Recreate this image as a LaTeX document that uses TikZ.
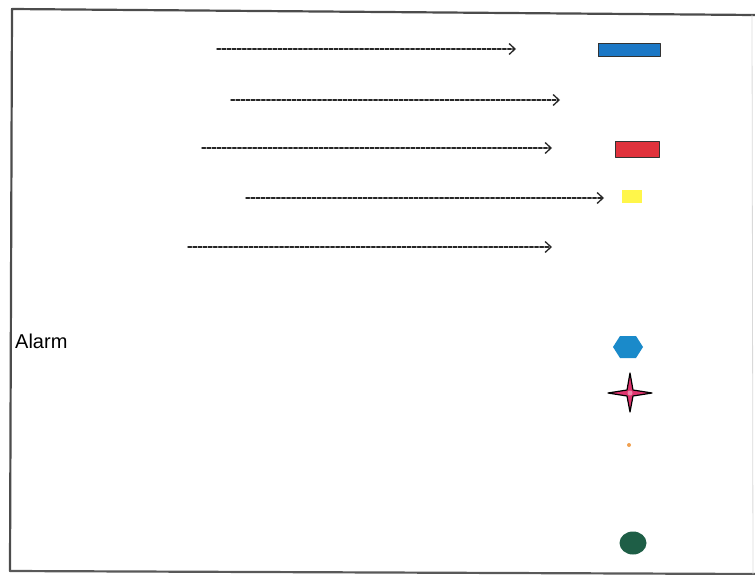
\documentclass[tikz,border=0pt]{standalone}
\usepackage{fontspec}
\setmainfont{Liberation Sans}
\usetikzlibrary{arrows.meta,shapes.geometric}
\definecolor{legendblue}{HTML}{1C78C6}
\definecolor{legendred}{HTML}{E0323C}
\definecolor{legendyellow}{HTML}{FFF64A}
\definecolor{hexblue}{HTML}{1A8ACA}
\definecolor{starpink}{HTML}{E0346E}
\definecolor{dotorange}{HTML}{F0A050}
\definecolor{ovalgreen}{HTML}{1E5E46}

\begin{document}
\begin{tikzpicture}[x=1pt,y=-1pt,line cap=round,line join=round,
  pointer/.style={dash pattern=on 3.5pt off 1.6pt,line width=1.4pt,draw=black!85,
    -{Straight Barb[length=6pt,width=11pt,line width=1.3pt]}}]
  \useasboundingbox (0,0) rectangle (755,574);

  % Scanned frame, slightly skewed.
  \draw[black!70,line width=2.2pt] (755,15)--(12,9)--(10,571);
  \draw[black!65,line width=2.2pt] (10,571)--(755,574);
  \draw[black!15,line width=0.8pt] (752,15)--(753,574);

  % Dashed pointers, loose ends only.
  \foreach \n/\xa/\xb/\y in {1/217/516/49,2/231/560/100,3/202/552/148,4/246/604/198,5/188/552/247}{
    \coordinate (s\n) at (\xa,\y);
    \coordinate (e\n) at (\xb,\y);
    \draw[pointer] (s\n)--(e\n);
  }

  % Legend swatches.
  \node[draw=black!80,fill=legendblue,line width=1pt,minimum width=62pt,minimum height=13pt,inner sep=0pt] (bluebar) at (629,50) {};
  \node[draw=black!80,fill=legendred,line width=1pt,minimum width=44pt,minimum height=16pt,inner sep=0pt] (redbar) at (637,149) {};
  \node[fill=legendyellow,minimum width=20pt,minimum height=13pt,inner sep=0pt] (yellowbar) at (632,196) {};

  % Alarm label.
  \node[anchor=west,inner sep=0pt,font=\fontsize{20}{24}\selectfont] (alarm) at (15,341) {Alarm};

  % Symbols.
  \fill[hexblue] (613,347)--(620,336)--(636,336)--(643,347)--(636,358)--(620,358)--cycle;
  \draw[fill=starpink,line width=1.2pt] (630,373)--(633,390)--(652,393)--(633,396)--
    (630,412)--(627,396)--(608,393)--(627,390)--cycle;
  \node[circle,fill=starpink!60,inner sep=0pt,minimum size=5pt] (starcore) at (630,393) {};
  \node[circle,fill=dotorange,inner sep=0pt,minimum size=4pt] (dot) at (629,445) {};
  \node[ellipse,fill=ovalgreen,minimum width=27pt,minimum height=23pt,inner sep=0pt] (oval) at (633,543) {};
\end{tikzpicture}
\end{document}
